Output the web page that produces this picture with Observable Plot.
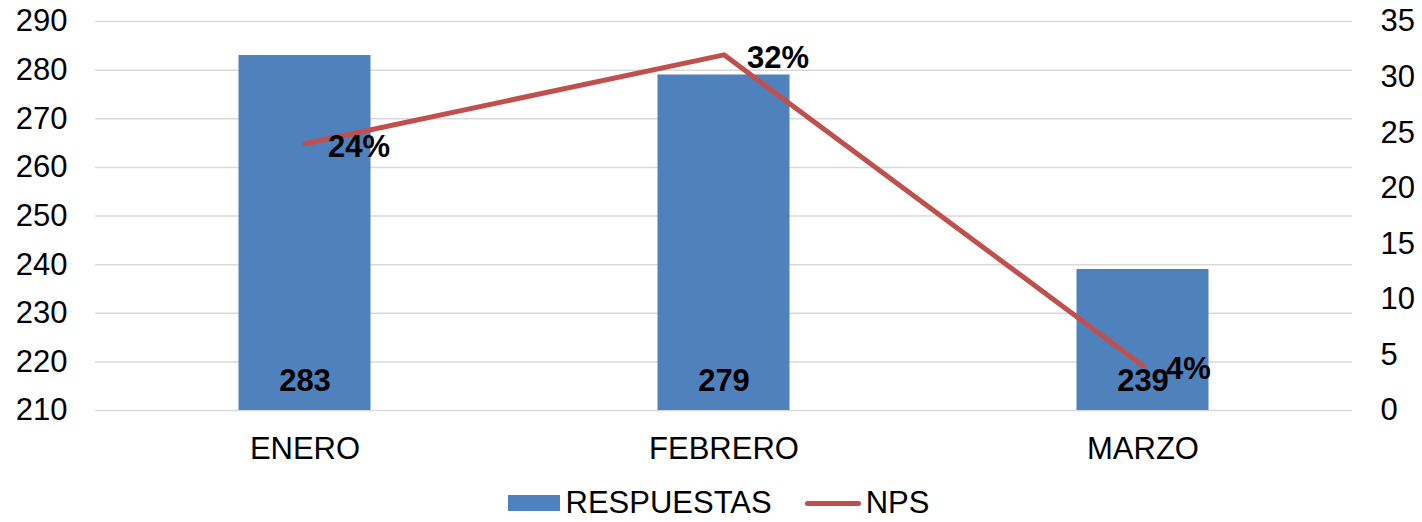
<!DOCTYPE html>
<html><head><meta charset="utf-8">
<script src="https://cdn.jsdelivr.net/npm/d3@7"></script>
<script src="https://cdn.jsdelivr.net/npm/@observablehq/plot@0.6"></script>
<style>
body{margin:0;background:#fff;font-family:"Liberation Sans",Arial,sans-serif;overflow:hidden;}
#legend{display:flex;justify-content:center;align-items:center;height:28px;line-height:28px;margin-top:19px;padding-left:15px;font-size:31px;color:#000;}
.item{display:flex;align-items:center;height:28px;}
</style></head>
<body><div id="chart" style="height:470px"></div>
<div id="legend">
<div class="item"><span style="display:inline-block;width:52px;height:16px;background:#4f81bd;margin-right:6px"></span><span>RESPUESTAS</span></div>
<div class="item" style="margin-left:33px"><span style="display:inline-block;width:56px;height:5px;border-radius:3px;background:#c0504d;margin-right:5px"></span><span>NPS</span></div>
</div>
<script>
const months = ["ENERO","FEBRERO","MARZO"];
const respuestas = [283,279,239];
const nps = [24,32,4];
const leftTicks = [210,220,230,240,250,260,270,280,290];
const rightTicks = [0,5,10,15,20,25,30,35];

const yMin = 210, yMax = 290, rMax = 35;
const toLeft = v => yMin + v*(yMax-yMin)/rMax;
const data = months.map((m,i)=>({month:m, resp:respuestas[i], nps:nps[i], npsY:toLeft(nps[i])}));

const chart = Plot.plot({
  width:1422, height:470,
  marginLeft:95, marginRight:70, marginTop:21, marginBottom:60,
  style:{fontFamily:"'Liberation Sans',Arial,sans-serif", fontSize:"31px", color:"#000", background:"#fff", display:"block"},
  x:{domain:months, padding:0, label:null},
  y:{domain:[yMin,yMax], label:null},
  marks:[
    Plot.gridY(leftTicks,{stroke:"#d9d9d9", strokeOpacity:1, strokeWidth:1.5}),
    Plot.axisY(leftTicks,{anchor:"left", tickSize:0, tickPadding:28, fontSize:31, label:null}),
    Plot.axisY(rightTicks.map(toLeft),{anchor:"right", tickSize:0, tickPadding:28, fontSize:31, label:null, tickFormat:v=>String(Math.round((v-yMin)*rMax/(yMax-yMin))), textAnchor:"start"}),
    Plot.axisX({tickSize:0, tickPadding:26, fontSize:31, label:null}),
    Plot.barY(data,{x:"month", y1:()=>yMin, y2:"resp", fill:"#4f81bd", insetLeft:143.5, insetRight:143.5}),
    Plot.text(data,{x:"month", y:()=>yMin, text:d=>String(d.resp), dy:-29, fontSize:31, fontWeight:"bold", fill:"#000"}),
    Plot.line(data,{x:"month", y:"npsY", stroke:"#c0504d", strokeWidth:5, strokeLinecap:"round", strokeLinejoin:"round"}),
    Plot.text(data,{x:"month", y:"npsY", text:d=>d.nps+"%", dx:23, dy:3, textAnchor:"start", fontSize:31, fontWeight:"bold", fill:"#000"})
  ]
});
document.getElementById("chart").appendChild(chart);
</script></body></html>
